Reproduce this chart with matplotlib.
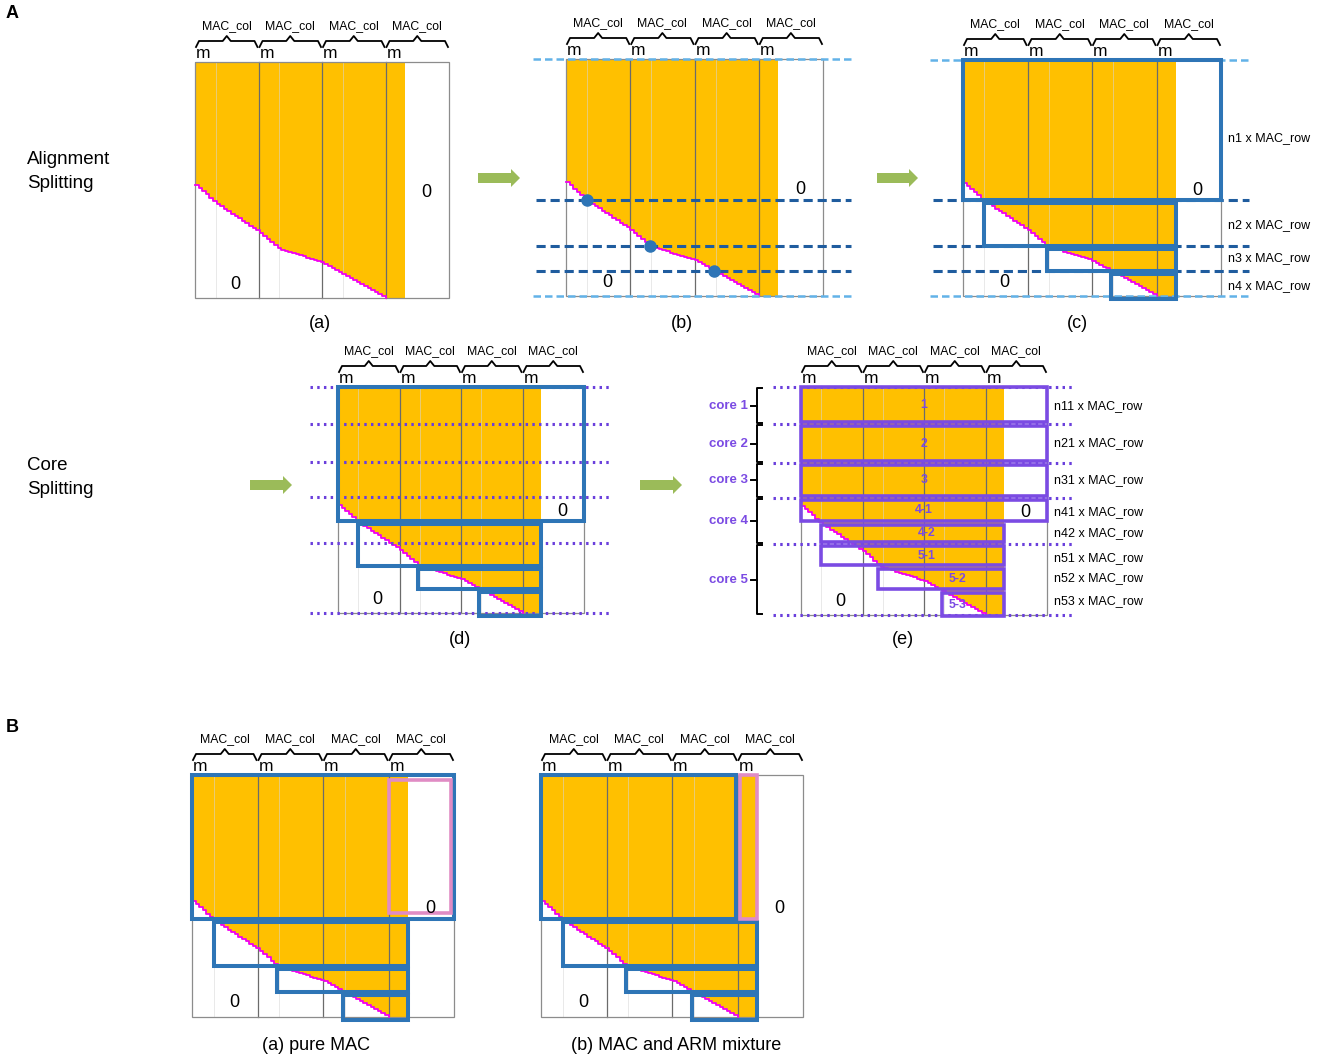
import numpy as np
import matplotlib.pyplot as plt
from matplotlib.patches import Rectangle, Polygon

plt.rcParams['font.family'] = ['Liberation Sans', 'DejaVu Sans']

# ---- diagram content ----
col_labels = ['MAC_col', 'MAC_col', 'MAC_col', 'MAC_col']
sub_label = 'm'
m_frac = 0.33          # width of the m sub-column (MAC_col units)
nnz_right = 3.3        # right end of the non-zero block (MAC_col units)

# alignment edge (pink staircase): column position -> row depth
edge_cols = [0.0, 0.33, 1.0, 1.3, 2.0, 2.3, 3.0]
edge_depth = [0.52, 0.60, 0.72, 0.79, 0.85, 0.895, 1.0]

# alignment splitting
align_starts = [0.0, 0.33, 1.3, 2.3]
align_splits = [0.595, 0.79, 0.895]
align_labels = ['n1 x MAC_row', 'n2 x MAC_row', 'n3 x MAC_row', 'n4 x MAC_row']

# core splitting
core_names = ['core 1', 'core 2', 'core 3', 'core 4', 'core 5']
core_bounds = [0.0, 0.164, 0.332, 0.487, 0.69, 1.0]
sub_names = ['1', '2', '3', '4-1', '4-2', '5-1', '5-2', '5-3']
sub_bounds = [0.0, 0.164, 0.332, 0.487, 0.595, 0.69, 0.79, 0.895, 1.0]
sub_starts = [0.0, 0.0, 0.0, 0.0, 0.33, 0.33, 1.25, 2.3]
sub_full = [True, True, True, True, False, False, False, False]
sub_rows = ['n11 x MAC_row', 'n21 x MAC_row', 'n31 x MAC_row', 'n41 x MAC_row',
            'n42 x MAC_row', 'n51 x MAC_row', 'n52 x MAC_row', 'n53 x MAC_row']

captions_top = ['(a)', '(b)', '(c)']
captions_mid = ['(d)', '(e)']
captions_B = ['(a) pure MAC', '(b) MAC and ARM mixture']

# ---- layout (pixels) ----
boxes = {'a': (195, 62, 449, 298), 'b': (566, 59, 823, 296), 'c': (963, 60, 1221, 296),
         'd': (338, 387, 584, 613), 'e': (801, 387, 1047, 615),
         'Ba': (192, 775, 454, 1017), 'Bb': (541, 775, 803, 1017)}
align_label_depth = [0.33, 0.70, 0.84, 0.96]
sub_label_cols = [2.0, 2.0, 2.0, 2.0, 2.05, 2.05, 2.55, 2.55]
sub_row_depth = [0.083, 0.245, 0.41, 0.55, 0.64, 0.75, 0.84, 0.94]
arrows = [(478, 520, 178), (877, 918, 178), (250, 292, 485), (640, 682, 485)]

ORANGE = '#FFC000'
BLUE = '#2E75B6'
DBLUE = '#1F5C9E'
LBLUE = '#62B2E8'
PURPLE = '#7B4BE3'
PDOT = '#6A3FDC'
PINK = '#E08CC4'
MAGENTA = '#F000F0'
GREEN = '#9BBB59'

fig = plt.figure(figsize=(13.25, 10.63), dpi=100)
ax = fig.add_axes([0, 0, 1, 1])
ax.set_xlim(0, 1325)
ax.set_ylim(1063, 0)
ax.axis('off')


def matrix(box):
    x0, y0, x1, y1 = box
    cw, h = (x1 - x0) / 4, y1 - y0
    n = int(3 * cw / 3.5)
    px = np.linspace(x0, x0 + edge_cols[-1] * cw, n)
    py = y0 + h * np.interp((px - x0) / cw, edge_cols, edge_depth)
    sx = np.repeat(px, 2)[1:]
    sy = np.repeat(py, 2)[:-1]
    xr = x0 + nnz_right * cw
    poly = [(x0, y0)] + list(zip(sx, sy)) + [(xr, y1), (xr, y0)]
    ax.add_patch(Polygon(poly, closed=True, fc=ORANGE, ec='none', zorder=1))
    for k in range(3):
        xm = x0 + (k + m_frac) * cw
        ax.plot([xm, xm], [y0, y1], color='#d6d6d6', lw=0.7, alpha=0.55, zorder=2)
    for k in range(1, 4):
        ax.plot([x0 + k * cw] * 2, [y0, y1], color='#6b6b6b', lw=0.9, zorder=2)
    ax.add_patch(Rectangle((x0, y0), x1 - x0, h, fill=False, ec='#8c8c8c', lw=0.9, zorder=2))
    ax.plot(sx, sy, color=MAGENTA, lw=1.3, zorder=3)
    # header: braces, MAC_col, m
    for k, lab in enumerate(col_labels):
        xl, xrr = x0 + k * cw + 1, x0 + (k + 1) * cw - 1
        xm = (xl + xrr) / 2
        yb = y0 - 21
        ax.plot([xl, xl + 3, xm - 4, xm, xm + 4, xrr - 3, xrr],
                [yb + 6, yb, yb, yb - 5, yb, yb, yb + 6], color='black', lw=1.3, zorder=3)
        ax.text(xm, y0 - 33, lab, ha='center', va='baseline', fontsize=8.8)
        ax.text(x0 + k * cw + 1, y0 - 4, sub_label, ha='left', va='baseline', fontsize=12.5)
    ax.text(x0 + 3.64 * cw, y0 + 0.57 * h, '0', ha='center', va='baseline', fontsize=13, zorder=5)
    ax.text(x0 + 0.64 * cw, y0 + 0.96 * h, '0', ha='center', va='baseline', fontsize=13, zorder=5)
    return x0, y0, x1, y1, cw, h


def dashed_splits(x0, y0, x1, y1, h, dots=False, cw=0):
    for y in (y0, y1):
        ax.plot([x0 - 33, x1 + 28], [y, y], color=LBLUE, lw=1.8, ls=(0, (3, 1.6)), zorder=3.5)
    for s, c in zip(align_splits, align_starts[1:]):
        ys = y0 + s * h
        ax.plot([x0 - 30, x1 + 28], [ys, ys], color=DBLUE, lw=2.2, ls=(0, (3, 1.6)), zorder=3.5)
        if dots:
            ax.plot(x0 + c * cw, ys, 'o', ms=8, color=BLUE, zorder=4)


def align_rects(x0, y0, x1, y1, cw, h, first_right=None):
    tops = [0.0] + align_splits
    bots = align_splits + [1.0]
    for i, (c, t, b) in enumerate(zip(align_starts, tops, bots)):
        yt = y0 + t * h + (3 if i else 0)
        yb = y0 + b * h + (3 if i == 3 else 0)
        xl = x0 + c * cw
        if i == 0:
            xr = x1 if first_right is None else first_right
        else:
            xr = x0 + nnz_right * cw
        ax.add_patch(Rectangle((xl, yt), xr - xl, yb - yt, fill=False, ec=BLUE, lw=2.9, zorder=4))


def core_lines(x0, y0, x1, y1, h):
    for d in core_bounds:
        y = y0 + d * h
        ax.plot([x0 - 28, x1 + 25], [y, y], color=PDOT, lw=2.2, ls=(0, (0.8, 1.4)), zorder=3.5)


# ---- (a) ----
matrix(boxes['a'])

# ---- (b) ----
x0, y0, x1, y1, cw, h = matrix(boxes['b'])
dashed_splits(x0, y0, x1, y1, h, dots=True, cw=cw)

# ---- (c) ----
x0, y0, x1, y1, cw, h = matrix(boxes['c'])
dashed_splits(x0, y0, x1, y1, h)
align_rects(x0, y0, x1, y1, cw, h)
for lab, d in zip(align_labels, align_label_depth):
    ax.text(x1 + 7, y0 + d * h, lab, ha='left', va='center', fontsize=9)

# ---- (d) ----
x0, y0, x1, y1, cw, h = matrix(boxes['d'])
core_lines(x0, y0, x1, y1, h)
align_rects(x0, y0, x1, y1, cw, h)

# ---- (e) ----
x0, y0, x1, y1, cw, h = matrix(boxes['e'])
core_lines(x0, y0, x1, y1, h)
for i, name in enumerate(sub_names):
    yt = y0 + sub_bounds[i] * h + (2 if i else 0)
    yb = y0 + sub_bounds[i + 1] * h - (2 if i < len(sub_names) - 1 else -1)
    xl = x0 + sub_starts[i] * cw
    xr = x1 if sub_full[i] else x0 + nnz_right * cw
    ax.add_patch(Rectangle((xl, yt), xr - xl, yb - yt, fill=False, ec=PURPLE, lw=2.6, zorder=4))
    ax.text(x0 + sub_label_cols[i] * cw, (yt + yb) / 2, name, color=PURPLE, fontweight='bold',
            fontsize=8.8, ha='center', va='center', zorder=5)
    ax.text(x1 + 7, y0 + sub_row_depth[i] * h, sub_rows[i], ha='left', va='center', fontsize=9)
xb = x0 - 44
for i, name in enumerate(core_names):
    yt = y0 + core_bounds[i] * h + 1
    yb = y0 + core_bounds[i + 1] * h - 1
    ym = (yt + yb) / 2
    ax.plot([xb + 5, xb, xb, xb + 5], [yt, yt, yb, yb], color='black', lw=1.4)
    ax.plot([xb - 6, xb], [ym, ym], color='black', lw=1.4)
    ax.text(xb - 9, ym, name, color=PURPLE, fontweight='bold', fontsize=9.5, ha='right', va='center')

# ---- B (a) ----
x0, y0, x1, y1, cw, h = matrix(boxes['Ba'])
align_rects(x0, y0, x1, y1, cw, h)
ax.add_patch(Rectangle((x0 + 3 * cw, y0 + 5), x1 - 3 - (x0 + 3 * cw),
                       align_splits[0] * h - 11, fill=False, ec=PINK, lw=2.6, zorder=4))

# ---- B (b) ----
x0, y0, x1, y1, cw, h = matrix(boxes['Bb'])
align_rects(x0, y0, x1, y1, cw, h, first_right=x0 + 3 * cw - 2)
ax.add_patch(Rectangle((x0 + 3 * cw + 2, y0), (nnz_right - 3) * cw - 2,
                       align_splits[0] * h, fill=False, ec=PINK, lw=2.6, zorder=4))

# ---- arrows ----
for xs, xe, yc in arrows:
    xh = xe - 9
    ax.add_patch(Polygon([(xs, yc - 5), (xh, yc - 5), (xh, yc - 9), (xe, yc),
                          (xh, yc + 9), (xh, yc + 5), (xs, yc + 5)],
                         closed=True, fc=GREEN, ec='none'))

# ---- captions and headings ----
for lab, x in zip(captions_top, [320, 682, 1077]):
    ax.text(x, 324, lab, ha='center', va='center', fontsize=13)
for lab, x in zip(captions_mid, [460, 903]):
    ax.text(x, 640, lab, ha='center', va='center', fontsize=13)
for lab, x in zip(captions_B, [316, 676]):
    ax.text(x, 1045, lab, ha='center', va='center', fontsize=13)

ax.text(6, 14, 'A', fontweight='bold', fontsize=13, ha='left', va='center')
ax.text(6, 728, 'B', fontweight='bold', fontsize=13, ha='left', va='center')
ax.text(27, 160, 'Alignment', fontsize=13.5, ha='left', va='center')
ax.text(27, 184, 'Splitting', fontsize=13.5, ha='left', va='center')
ax.text(27, 465, 'Core', fontsize=13.5, ha='left', va='center')
ax.text(27, 490, 'Splitting', fontsize=13.5, ha='left', va='center')

fig.savefig('out.png', dpi=100)
